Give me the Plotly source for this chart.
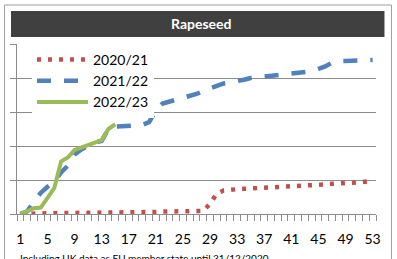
import plotly.graph_objects as go

weeks = list(range(1, 54))
tick_weeks = list(range(1, 54, 4))
tick_labels = [str(w) for w in tick_weeks]

title_text = "Rapeseed"
note_text = "Including UK data as EU member state until 31/12/2020"

series_names = ["2020/21", "2021/22", "2022/23"]

values_2020_21 = [0.00, 0.01, 0.01, 0.02, 0.02, 0.02, 0.03, 0.03, 0.03, 0.03,
                  0.03, 0.04, 0.04, 0.04, 0.04, 0.05, 0.05, 0.05, 0.06, 0.06,
                  0.06, 0.07, 0.07, 0.07, 0.07, 0.08, 0.08, 0.09, 0.30, 0.60,
                  0.69, 0.72, 0.73, 0.74, 0.75, 0.76, 0.78, 0.79, 0.80, 0.80,
                  0.80, 0.81, 0.81, 0.82, 0.84, 0.87, 0.89, 0.89, 0.91, 0.92,
                  0.93, 0.95, 0.98]

values_2021_22 = [0.00, 0.08, 0.35, 0.62, 0.80, 0.95, 1.22, 1.42, 1.75, 1.90,
                  2.00, 2.10, 2.15, 2.50, 2.57, 2.58, 2.58, 2.60, 2.62, 2.70,
                  3.05, 3.25, 3.30, 3.37, 3.43, 3.48, 3.53, 3.62, 3.70, 3.78,
                  3.84, 3.87, 3.90, 3.95, 4.00, 4.02, 4.04, 4.07, 4.10, 4.12,
                  4.14, 4.16, 4.18, 4.20, 4.27, 4.34, 4.45, 4.50, 4.50, 4.51,
                  4.52, 4.53, 4.53]

values_2022_23 = [0.00, 0.10, 0.17, 0.19, 0.50, 0.76, 1.54, 1.66, 1.88, 1.96,
                  2.03, 2.12, 2.17, 2.50, 2.64]

colors = ["#C0504D", "#4F81BD", "#9BBB59"]

# layout geometry (pixels)
W, H = 397, 259
L, R, T, B = 17, 376.5, 44, 214


def px_x(px):
    return (px - L) / (R - L)


def px_y(py):
    return (B - py) / (B - T)


fig = go.Figure()
fig.add_trace(go.Scatter(x=weeks[:len(values_2020_21)], y=values_2020_21, name=series_names[0],
                         mode="lines", line=dict(color=colors[0], width=4.5, dash="4px,7px")))
fig.add_trace(go.Scatter(x=weeks[:len(values_2021_22)], y=values_2021_22, name=series_names[1],
                         mode="lines", line=dict(color=colors[1], width=4.5, dash="14px,13px")))
fig.add_trace(go.Scatter(x=weeks[:len(values_2022_23)], y=values_2022_23, name=series_names[2],
                         mode="lines", line=dict(color=colors[2], width=4)))

grid = "#8C8C8C"
font_family = "Lato, Carlito, Calibri, sans-serif"

fig.update_layout(
    width=W, height=H,
    margin=dict(l=L, r=W - R, t=T, b=H - B, pad=0),
    paper_bgcolor="white", plot_bgcolor="white",
    font=dict(family=font_family, color="black"),
    showlegend=True,
    legend=dict(x=px_x(32), y=px_y(44), xanchor="left", yanchor="top",
                bgcolor="white", borderwidth=0, itemwidth=51,
                font=dict(size=14, family=font_family, color="black")),
    xaxis=dict(range=[0.5, 53.5], showgrid=False, zeroline=False,
               showline=True, linecolor=grid, linewidth=1,
               tickmode="array", tickvals=tick_weeks, ticktext=tick_labels,
               ticks="outside", ticklen=12, tickcolor="rgba(0,0,0,0)",
               tickfont=dict(size=14, family=font_family, color="black"),
               minor=dict(tickmode="array", tickvals=[w + 0.5 for w in range(0, 54)],
                          ticks="outside", ticklen=6, tickcolor=grid, tickwidth=1,
                          showgrid=False),
               fixedrange=True),
    yaxis=dict(range=[0, 5], showgrid=True, gridcolor=grid, gridwidth=1,
               zeroline=False, showline=True, linecolor=grid, linewidth=1,
               tickmode="array", tickvals=[0, 1, 2, 3, 4, 5],
               ticks="outside", ticklen=6, tickcolor=grid, showticklabels=False,
               fixedrange=True),
    shapes=[
        dict(type="rect", xref="paper", yref="paper",
             x0=px_x(4.5), x1=px_x(392), y0=px_y(5), y1=px_y(275),
             line=dict(color="#A0A0A0", width=1), fillcolor="rgba(0,0,0,0)", layer="below"),
        dict(type="rect", xref="paper", yref="paper",
             x0=px_x(11), x1=px_x(385), y0=px_y(11), y1=px_y(37),
             line=dict(width=0), fillcolor="#404040", layer="below"),
    ],
    annotations=[
        dict(text="<b>" + title_text + "</b>", xref="paper", yref="paper",
             x=px_x(202), y=px_y(24), xanchor="center", yanchor="middle",
             showarrow=False, font=dict(size=14, color="white", family=font_family)),
        dict(text=note_text, xref="paper", yref="paper",
             x=px_x(18), y=px_y(250), xanchor="left", yanchor="top",
             showarrow=False, font=dict(size=10, color="black", family=font_family)),
    ],
)

fig.write_html("out.html", config={"displayModeBar": False},
               post_script="document.body.style.margin='0';document.body.style.padding='0';")
